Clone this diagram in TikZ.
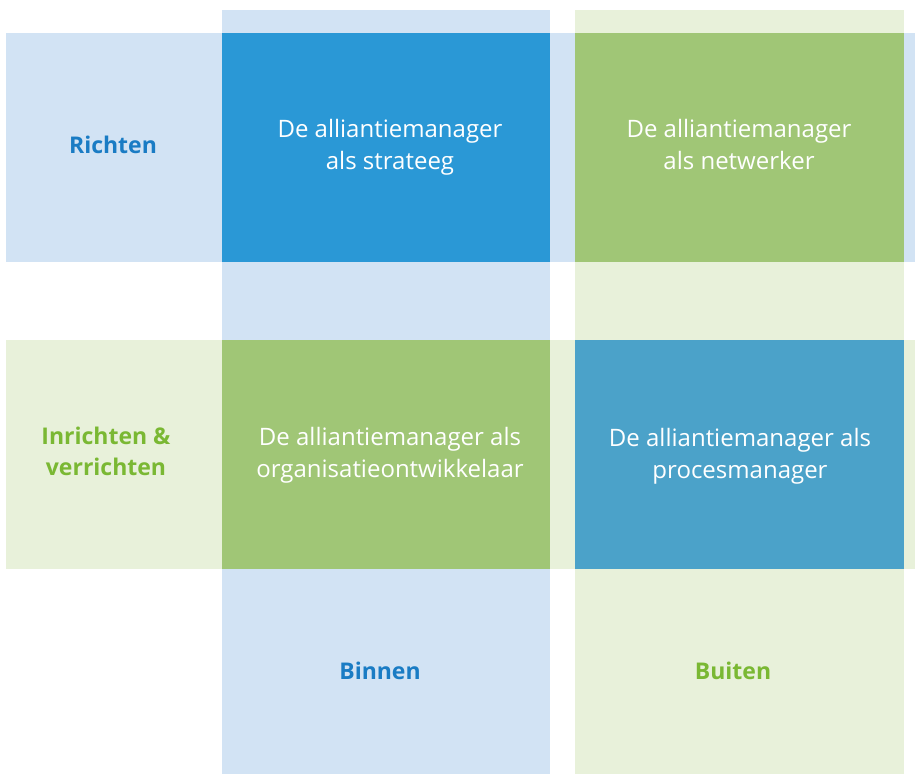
\documentclass[tikz,border=0pt]{standalone}
\usepackage{fontspec}
\setmainfont{Open Sans}
\definecolor{lightblue}{HTML}{D2E3F4}
\definecolor{lightgreen}{HTML}{E8F1DA}
\definecolor{strongblue}{HTML}{2A98D6}
\definecolor{midblue}{HTML}{4BA2C9}
\definecolor{leafgreen}{HTML}{A0C676}
\definecolor{labelblue}{HTML}{1A7CC4}
\definecolor{labelgreen}{HTML}{7AB833}
\begin{document}
\begin{tikzpicture}[x=1pt,y=-1pt,
  celltext/.style={text=white,align=center,inner sep=0pt,font=\fontsize{24}{32}\selectfont},
  axislabel/.style={align=center,inner sep=0pt,font=\bfseries\fontsize{23}{31}\selectfont}]
\useasboundingbox (0,0) rectangle (915,774);
% column bands
\fill[lightblue] (222,10) rectangle (550,774);
\fill[lightgreen] (575,10) rectangle (904,774);
% row bands
\fill[lightblue] (6,33) rectangle (915,262);
\fill[lightgreen] (6,340) rectangle (915,569);
% quadrant cells
\fill[strongblue] (222,33) rectangle (550,262);
\fill[leafgreen] (575,33) rectangle (904,262);
\fill[leafgreen] (222,340) rectangle (550,569);
\fill[midblue] (575,340) rectangle (904,569);
% cell texts (struts keep the line boxes equal)
\node[celltext] (strateeg) at (390,147) {\strut De alliantiemanager\\als strateeg\strut};
\node[celltext] (netwerker) at (739,147) {\strut De alliantiemanager\\als netwerker\strut};
\node[celltext] (ontwikkelaar) at (390,455.5) {\strut De alliantiemanager als\\organisatieontwikkelaar\strut};
\node[celltext] (procesmanager) at (740,456.5) {\strut De alliantiemanager als\\procesmanager\strut};
% axis labels
\node[axislabel,text=labelblue] (richten) at (113,147.5) {\strut Richten};
\node[axislabel,text=labelgreen] (inrichten) at (106,454) {\strut Inrichten \&\\verrichten\strut};
\node[axislabel,text=labelblue] (binnen) at (380,673.5) {\strut Binnen};
\node[axislabel,text=labelgreen] (buiten) at (733,673.5) {\strut Buiten};
\end{tikzpicture}
\end{document}
